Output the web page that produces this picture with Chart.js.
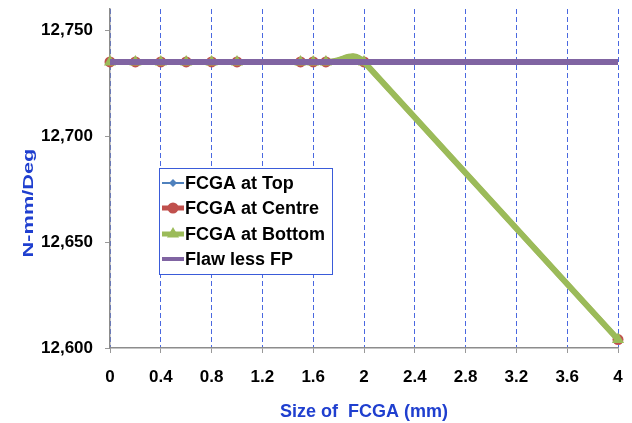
<!DOCTYPE html>
<html><head><meta charset="utf-8">
<script src="https://cdn.jsdelivr.net/npm/chart.js@4/dist/chart.umd.min.js"></script>
<style>html,body{margin:0;padding:0;background:#fff}#wrap{width:632px;height:423px;position:relative}</style>
</head><body><div id="wrap"><canvas id="c" width="632" height="423"></canvas></div>
<script>
// ---- data ----
const sizes = [0, 0.2, 0.4, 0.6, 0.8, 1.0, 1.5, 1.6, 1.7, 2.0, 4.0];
const fcgaTop    = [12735, 12735, 12735, 12735, 12735, 12735, 12735, 12735, 12735, 12735, 12604];
const fcgaCentre = [12735, 12735, 12735, 12735, 12735, 12735, 12735, 12735, 12735, 12735, 12604];
const fcgaBottom = [12735, 12735, 12735, 12735, 12735, 12735, 12735, 12735, 12735, 12735, 12604];
const flawSizes = [0, 4];
const flawless = [12735, 12735];
const xTicks = [0, 0.4, 0.8, 1.2, 1.6, 2, 2.4, 2.8, 3.2, 3.6, 4];
const yTicks = [12600, 12650, 12700, 12750];
const seriesNames = ['FCGA at Top', 'FCGA at Centre', 'FCGA at Bottom', 'Flaw less FP'];
const xTitle = 'Size of  FCGA (mm)';
const yTitle = 'N-mm/Deg';

const BLUE = '#4F81BD', RED = '#C0504D', GREEN = '#9BBB59', PURPLE = '#8064A2';
const FONT = "'Liberation Sans', Arial, sans-serif";
const TITLE_BLUE = '#1f3fcf';

const pts = (xs, ys) => xs.map((x, i) => ({x: x, y: ys[i]}));

const legendPlugin = {
  id: 'boxLegend',
  afterDraw(chart) {
    const ctx = chart.ctx;
    const bx = 159.5, by = 168.5, bw = 173, bh = 106;
    ctx.save();
    ctx.fillStyle = '#fff';
    ctx.fillRect(bx, by, bw, bh);
    ctx.strokeStyle = '#3a5bd9';
    ctx.lineWidth = 1;
    ctx.strokeRect(bx, by, bw, bh);
    const rows = [183, 208, 234, 259];
    const specs = [
      {c: BLUE, lw: 2, m: 'diamond', r: 4},
      {c: RED, lw: 5, m: 'circle', r: 5.5},
      {c: GREEN, lw: 5, m: 'triangle', r: 7},
      {c: PURPLE, lw: 4, m: null}
    ];
    ctx.font = 'bold 18px ' + FONT;
    ctx.textBaseline = 'middle';
    ctx.textAlign = 'left';
    for (let i = 0; i < 4; i++) {
      const y = rows[i], s = specs[i];
      ctx.strokeStyle = s.c; ctx.lineWidth = s.lw; ctx.lineCap = 'butt';
      ctx.beginPath(); ctx.moveTo(162, y); ctx.lineTo(184, y); ctx.stroke();
      ctx.fillStyle = s.c;
      const cx = 173;
      if (s.m === 'diamond') {
        ctx.beginPath(); ctx.moveTo(cx, y - s.r); ctx.lineTo(cx + s.r, y); ctx.lineTo(cx, y + s.r); ctx.lineTo(cx - s.r, y); ctx.closePath(); ctx.fill();
      } else if (s.m === 'circle') {
        ctx.beginPath(); ctx.arc(cx, y, s.r, 0, Math.PI * 2); ctx.fill();
      } else if (s.m === 'triangle') {
        ctx.beginPath(); ctx.moveTo(cx, y - s.r); ctx.lineTo(cx + s.r * 0.866, y + s.r / 2); ctx.lineTo(cx - s.r * 0.866, y + s.r / 2); ctx.closePath(); ctx.fill();
      }
      ctx.fillStyle = '#000';
      ctx.fillText(seriesNames[i], 185, y + 1);
    }
    // y axis title (horizontally stretched like the reference)
    ctx.save();
    ctx.translate(29, 203);
    ctx.rotate(-Math.PI / 2);
    ctx.scale(1.5, 1);
    ctx.font = 'bold 14.5px ' + FONT;
    ctx.fillStyle = TITLE_BLUE;
    ctx.textAlign = 'center';
    ctx.textBaseline = 'middle';
    ctx.fillText(yTitle, 0, 0);
    ctx.restore();
    ctx.restore();
  }
};

// keep the long final segment straight (as in the reference) while the short
// segments keep the smoothing overshoot
const straightTail = {
  id: 'straightTail',
  beforeDatasetDraw(chart, args) {
    const meta = args.meta;
    const line = meta.dataset;
    if (!line || !line.options.tension) return;
    line.updateControlPoints(chart.chartArea, 'x');
    const p = meta.data;
    const n = p.length;
    if (n < 2) return;
    const a = p[n - 2], b = p[n - 1];
    const dx = (b.x - a.x) / 3, dy = (b.y - a.y) / 3;
    a.cp2x = a.x + dx; a.cp2y = a.y + dy;
    b.cp1x = b.x - dx; b.cp1y = b.y - dy;
  }
};

Chart.defaults.font.family = FONT;
Chart.defaults.font.weight = 'bold';
Chart.defaults.font.size = 17;
Chart.defaults.color = '#000';

new Chart(document.getElementById('c'), {
  type: 'line',
  data: {
    datasets: [
      {label: seriesNames[3], data: pts(flawSizes, flawless), borderColor: PURPLE, backgroundColor: PURPLE,
       borderWidth: 6, pointRadius: 0, tension: 0, order: 0, clip: false},
      {label: seriesNames[2], data: pts(sizes, fcgaBottom), borderColor: GREEN, backgroundColor: GREEN,
       borderWidth: 6, pointStyle: 'triangle', pointRadius: 7, pointBorderWidth: 0, tension: 0.5, order: 1, clip: false},
      {label: seriesNames[1], data: pts(sizes, fcgaCentre), borderColor: RED, backgroundColor: RED,
       borderWidth: 5, pointStyle: 'circle', pointRadius: 5.5, pointBorderWidth: 0, tension: 0.5, order: 2, clip: false},
      {label: seriesNames[0], data: pts(sizes, fcgaTop), borderColor: BLUE, backgroundColor: BLUE,
       borderWidth: 2, pointStyle: 'rectRot', pointRadius: 4, pointBorderWidth: 0, tension: 0.5, order: 3, clip: false}
    ]
  },
  options: {
    responsive: false,
    animation: false,
    events: [],
    layout: {padding: {left: 0, right: 14, top: 9, bottom: 0}},
    plugins: {legend: {display: false}, tooltip: {enabled: false}},
    scales: {
      x: {
        type: 'linear', min: 0, max: 4,
        afterBuildTicks: s => { s.ticks = xTicks.map(v => ({value: v})); },
        afterFit: s => { s.height = 75; s.paddingLeft = 0; s.paddingRight = 0; },
        ticks: {padding: 14, color: '#000', font: {size: 17, weight: 'bold'}, maxRotation: 0, autoSkip: false,
                callback: v => String(v)},
        grid: {display: true, drawOnChartArea: true, color: '#4a68e0', lineWidth: 1, tickLength: 5,
               tickColor: '#999', tickWidth: 1},
        border: {display: true, color: '#8c8c8c', width: 1.5, dash: [5, 3]},
        title: {display: true, text: xTitle, color: TITLE_BLUE, font: {size: 18, weight: 'bold'}, padding: {top: 0, bottom: 0}}
      },
      y: {
        type: 'linear', min: 12600, max: 12760,
        afterBuildTicks: s => { s.ticks = yTicks.map(v => ({value: v})); },
        afterFit: s => { s.width = 110; s.paddingTop = 0; s.paddingBottom = 0; },
        ticks: {padding: 12, color: '#000', font: {size: 17, weight: 'bold'},
                callback: v => Number(v).toLocaleString('en-US')},
        grid: {display: true, drawOnChartArea: false, tickLength: 5, tickColor: '#999', tickWidth: 1},
        border: {display: true, color: '#8c8c8c', width: 1.5},
        title: {display: false, text: yTitle}
      }
    }
  },
  plugins: [straightTail, legendPlugin]
});
</script>
</body></html>
